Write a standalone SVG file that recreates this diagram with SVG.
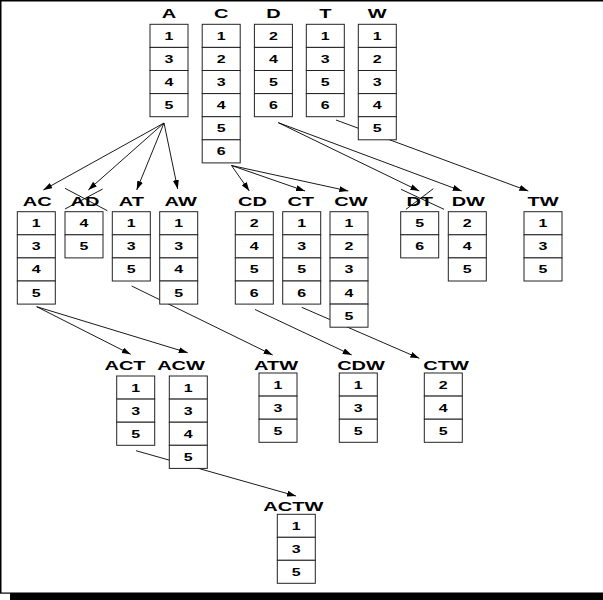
<svg xmlns="http://www.w3.org/2000/svg" width="603" height="600" viewBox="0 0 603 600">
<defs>
<style>
.c{fill:#fff;stroke:#222;stroke-width:1}
.d{font-family:"Liberation Sans",Arial,sans-serif;font-weight:bold;font-size:11px;text-anchor:middle;fill:#000}
.l{font-family:"Liberation Sans",Arial,sans-serif;font-weight:bold;font-size:12.5px;text-anchor:middle;fill:#000}
.e{stroke:#000;stroke-width:0.9;fill:none;marker-end:url(#ah)}
.x{stroke:#000;stroke-width:0.9;fill:none}
</style>
<marker id="ah" markerUnits="userSpaceOnUse" markerWidth="10" markerHeight="6" refX="9" refY="3" orient="auto">
<path d="M0,0 L9,3 L0,6 z" fill="#000"/>
</marker>
</defs>
<rect x="0" y="0" width="603" height="600" fill="#fff"/>
<line x1="0" y1="0.75" x2="603" y2="0.75" stroke="#000" stroke-width="1.5"/>
<line x1="0.75" y1="0" x2="0.75" y2="593" stroke="#000" stroke-width="1.5"/>
<rect x="0" y="592.5" width="603" height="1.2" fill="#000"/>
<rect x="10" y="593" width="593" height="7" fill="#000"/>

<g id="connectors">
<line class="e" x1="164" y1="123" x2="43.3" y2="190"/>
<line class="e" x1="164" y1="123" x2="88.3" y2="190"/>
<line class="e" x1="164" y1="123" x2="136.7" y2="190"/>
<line class="e" x1="164" y1="123" x2="177.7" y2="189"/>
<line class="e" x1="231.5" y1="165.5" x2="249.3" y2="191"/>
<line class="e" x1="231.5" y1="165.5" x2="305" y2="191"/>
<line class="e" x1="231.5" y1="165.5" x2="348.3" y2="191"/>
<line class="e" x1="278.3" y1="122.7" x2="419.3" y2="191"/>
<line class="e" x1="278.3" y1="122.7" x2="461.7" y2="191"/>
<line class="e" x1="336" y1="120" x2="528.3" y2="191"/>
<line class="e" x1="36.7" y1="306.7" x2="130.7" y2="354.3"/>
<line class="e" x1="36.7" y1="306.7" x2="187.7" y2="352.7"/>
<line class="e" x1="131.7" y1="286" x2="272.7" y2="355"/>
<line class="e" x1="255" y1="309.5" x2="351.7" y2="355"/>
<line class="e" x1="301.7" y1="307.3" x2="419.3" y2="358.3"/>
<line class="e" x1="136" y1="450.7" x2="296" y2="496"/>
</g>

<g id="node-A">
<text class="l" transform="translate(169,18.3) scale(1.6,1)">A</text>
<rect class="c" x="150" y="24.3" width="38" height="23.1"/><rect class="c" x="150" y="47.4" width="38" height="23.1"/><rect class="c" x="150" y="70.5" width="38" height="23.1"/><rect class="c" x="150" y="93.6" width="38" height="23.1"/>
<text class="d" transform="translate(169,39.8) scale(1.45,1)">1</text><text class="d" transform="translate(169,62.9) scale(1.45,1)">3</text><text class="d" transform="translate(169,86) scale(1.45,1)">4</text><text class="d" transform="translate(169,109.1) scale(1.45,1)">5</text>
</g>
<g id="node-C">
<text class="l" transform="translate(221.2,18.3) scale(1.6,1)">C</text>
<rect class="c" x="202.2" y="24.3" width="38" height="23.1"/><rect class="c" x="202.2" y="47.4" width="38" height="23.1"/><rect class="c" x="202.2" y="70.5" width="38" height="23.1"/><rect class="c" x="202.2" y="93.6" width="38" height="23.1"/><rect class="c" x="202.2" y="116.7" width="38" height="23.1"/><rect class="c" x="202.2" y="139.8" width="38" height="23.1"/>
<text class="d" transform="translate(221.2,39.8) scale(1.45,1)">1</text><text class="d" transform="translate(221.2,62.9) scale(1.45,1)">2</text><text class="d" transform="translate(221.2,86) scale(1.45,1)">3</text><text class="d" transform="translate(221.2,109.1) scale(1.45,1)">4</text><text class="d" transform="translate(221.2,132.2) scale(1.45,1)">5</text><text class="d" transform="translate(221.2,155.3) scale(1.45,1)">6</text>
</g>
<g id="node-D">
<text class="l" transform="translate(273.4,18.3) scale(1.6,1)">D</text>
<rect class="c" x="254.4" y="24.3" width="38" height="23.1"/><rect class="c" x="254.4" y="47.4" width="38" height="23.1"/><rect class="c" x="254.4" y="70.5" width="38" height="23.1"/><rect class="c" x="254.4" y="93.6" width="38" height="23.1"/>
<text class="d" transform="translate(273.4,39.8) scale(1.45,1)">2</text><text class="d" transform="translate(273.4,62.9) scale(1.45,1)">4</text><text class="d" transform="translate(273.4,86) scale(1.45,1)">5</text><text class="d" transform="translate(273.4,109.1) scale(1.45,1)">6</text>
</g>
<g id="node-T">
<text class="l" transform="translate(325.3,18.3) scale(1.6,1)">T</text>
<rect class="c" x="306.3" y="24.3" width="38" height="23.1"/><rect class="c" x="306.3" y="47.4" width="38" height="23.1"/><rect class="c" x="306.3" y="70.5" width="38" height="23.1"/><rect class="c" x="306.3" y="93.6" width="38" height="23.1"/>
<text class="d" transform="translate(325.3,39.8) scale(1.45,1)">1</text><text class="d" transform="translate(325.3,62.9) scale(1.45,1)">3</text><text class="d" transform="translate(325.3,86) scale(1.45,1)">5</text><text class="d" transform="translate(325.3,109.1) scale(1.45,1)">6</text>
</g>
<g id="node-W">
<text class="l" transform="translate(377.3,18.3) scale(1.6,1)">W</text>
<rect class="c" x="358.3" y="24.3" width="38" height="23.1"/><rect class="c" x="358.3" y="47.4" width="38" height="23.1"/><rect class="c" x="358.3" y="70.5" width="38" height="23.1"/><rect class="c" x="358.3" y="93.6" width="38" height="23.1"/><rect class="c" x="358.3" y="116.7" width="38" height="23.1"/>
<text class="d" transform="translate(377.3,39.8) scale(1.45,1)">1</text><text class="d" transform="translate(377.3,62.9) scale(1.45,1)">2</text><text class="d" transform="translate(377.3,86) scale(1.45,1)">3</text><text class="d" transform="translate(377.3,109.1) scale(1.45,1)">4</text><text class="d" transform="translate(377.3,132.2) scale(1.45,1)">5</text>
</g>

<g id="node-AC">
<text class="l" transform="translate(37.3,205.7) scale(1.6,1)">AC</text>
<rect class="c" x="17.3" y="211.7" width="38" height="23.1"/><rect class="c" x="17.3" y="234.8" width="38" height="23.1"/><rect class="c" x="17.3" y="257.9" width="38" height="23.1"/><rect class="c" x="17.3" y="281" width="38" height="23.1"/>
<text class="d" transform="translate(36.3,227.2) scale(1.45,1)">1</text><text class="d" transform="translate(36.3,250.3) scale(1.45,1)">3</text><text class="d" transform="translate(36.3,273.4) scale(1.45,1)">4</text><text class="d" transform="translate(36.3,296.5) scale(1.45,1)">5</text>
</g>
<g id="node-AD">
<text class="l" transform="translate(85,205.7) scale(1.6,1)">AD</text>
<line class="x" x1="65" y1="188.3" x2="107.3" y2="210.7"/>
<line class="x" x1="65" y1="209" x2="102.7" y2="189"/>
<rect class="c" x="65" y="211.7" width="38" height="23.1"/><rect class="c" x="65" y="234.8" width="38" height="23.1"/>
<text class="d" transform="translate(84,227.2) scale(1.45,1)">4</text><text class="d" transform="translate(84,250.3) scale(1.45,1)">5</text>
</g>
<g id="node-AT">
<text class="l" transform="translate(131.3,205.7) scale(1.6,1)">AT</text>
<rect class="c" x="112.3" y="211.7" width="38" height="23.1"/><rect class="c" x="112.3" y="234.8" width="38" height="23.1"/><rect class="c" x="112.3" y="257.9" width="38" height="23.1"/>
<text class="d" transform="translate(131.3,227.2) scale(1.45,1)">1</text><text class="d" transform="translate(131.3,250.3) scale(1.45,1)">3</text><text class="d" transform="translate(131.3,273.4) scale(1.45,1)">5</text>
</g>
<g id="node-AW">
<text class="l" transform="translate(180.7,205.7) scale(1.6,1)">AW</text>
<rect class="c" x="159.7" y="211.7" width="38" height="23.1"/><rect class="c" x="159.7" y="234.8" width="38" height="23.1"/><rect class="c" x="159.7" y="257.9" width="38" height="23.1"/><rect class="c" x="159.7" y="281" width="38" height="23.1"/>
<text class="d" transform="translate(178.7,227.2) scale(1.45,1)">1</text><text class="d" transform="translate(178.7,250.3) scale(1.45,1)">3</text><text class="d" transform="translate(178.7,273.4) scale(1.45,1)">4</text><text class="d" transform="translate(178.7,296.5) scale(1.45,1)">5</text>
</g>
<g id="node-CD">
<text class="l" transform="translate(252.5,205.7) scale(1.6,1)">CD</text>
<rect class="c" x="235.3" y="211.7" width="38" height="23.1"/><rect class="c" x="235.3" y="234.8" width="38" height="23.1"/><rect class="c" x="235.3" y="257.9" width="38" height="23.1"/><rect class="c" x="235.3" y="281" width="38" height="23.1"/>
<text class="d" transform="translate(254.3,227.2) scale(1.45,1)">2</text><text class="d" transform="translate(254.3,250.3) scale(1.45,1)">4</text><text class="d" transform="translate(254.3,273.4) scale(1.45,1)">5</text><text class="d" transform="translate(254.3,296.5) scale(1.45,1)">6</text>
</g>
<g id="node-CT">
<text class="l" transform="translate(300.7,205.7) scale(1.6,1)">CT</text>
<rect class="c" x="282.7" y="211.7" width="38" height="23.1"/><rect class="c" x="282.7" y="234.8" width="38" height="23.1"/><rect class="c" x="282.7" y="257.9" width="38" height="23.1"/><rect class="c" x="282.7" y="281" width="38" height="23.1"/>
<text class="d" transform="translate(301.7,227.2) scale(1.45,1)">1</text><text class="d" transform="translate(301.7,250.3) scale(1.45,1)">3</text><text class="d" transform="translate(301.7,273.4) scale(1.45,1)">5</text><text class="d" transform="translate(301.7,296.5) scale(1.45,1)">6</text>
</g>
<g id="node-CW">
<text class="l" transform="translate(351,205.7) scale(1.6,1)">CW</text>
<rect class="c" x="330" y="211.7" width="38" height="23.1"/><rect class="c" x="330" y="234.8" width="38" height="23.1"/><rect class="c" x="330" y="257.9" width="38" height="23.1"/><rect class="c" x="330" y="281" width="38" height="23.1"/><rect class="c" x="330" y="304.1" width="38" height="23.1"/>
<text class="d" transform="translate(349,227.2) scale(1.45,1)">1</text><text class="d" transform="translate(349,250.3) scale(1.45,1)">2</text><text class="d" transform="translate(349,273.4) scale(1.45,1)">3</text><text class="d" transform="translate(349,296.5) scale(1.45,1)">4</text><text class="d" transform="translate(349,319.6) scale(1.45,1)">5</text>
</g>
<g id="node-DT">
<text class="l" transform="translate(419.7,205.7) scale(1.6,1)">DT</text>
<line class="x" x1="401" y1="189.3" x2="444" y2="209.3"/>
<line class="x" x1="433.3" y1="188.7" x2="406" y2="209.3"/>
<rect class="c" x="400.7" y="211.7" width="38" height="23.1"/><rect class="c" x="400.7" y="234.8" width="38" height="23.1"/>
<text class="d" transform="translate(419.7,227.2) scale(1.45,1)">5</text><text class="d" transform="translate(419.7,250.3) scale(1.45,1)">6</text>
</g>
<g id="node-DW">
<text class="l" transform="translate(468.3,205.7) scale(1.6,1)">DW</text>
<rect class="c" x="448.3" y="211.7" width="38" height="23.1"/><rect class="c" x="448.3" y="234.8" width="38" height="23.1"/><rect class="c" x="448.3" y="257.9" width="38" height="23.1"/>
<text class="d" transform="translate(467.3,227.2) scale(1.45,1)">2</text><text class="d" transform="translate(467.3,250.3) scale(1.45,1)">4</text><text class="d" transform="translate(467.3,273.4) scale(1.45,1)">5</text>
</g>
<g id="node-TW">
<text class="l" transform="translate(543,205.7) scale(1.6,1)">TW</text>
<rect class="c" x="524" y="211.7" width="38" height="23.1"/><rect class="c" x="524" y="234.8" width="38" height="23.1"/><rect class="c" x="524" y="257.9" width="38" height="23.1"/>
<text class="d" transform="translate(543,227.2) scale(1.45,1)">1</text><text class="d" transform="translate(543,250.3) scale(1.45,1)">3</text><text class="d" transform="translate(543,273.4) scale(1.45,1)">5</text>
</g>

<g id="node-ACT">
<text class="l" transform="translate(125,370) scale(1.6,1)">ACT</text>
<rect class="c" x="116.7" y="376" width="38" height="23.1"/><rect class="c" x="116.7" y="399.1" width="38" height="23.1"/><rect class="c" x="116.7" y="422.2" width="38" height="23.1"/>
<text class="d" transform="translate(135.7,391.5) scale(1.45,1)">1</text><text class="d" transform="translate(135.7,414.6) scale(1.45,1)">3</text><text class="d" transform="translate(135.7,437.7) scale(1.45,1)">5</text>
</g>
<g id="node-ACW">
<text class="l" transform="translate(181,370) scale(1.6,1)">ACW</text>
<rect class="c" x="169.3" y="376" width="38" height="23.1"/><rect class="c" x="169.3" y="399.1" width="38" height="23.1"/><rect class="c" x="169.3" y="422.2" width="38" height="23.1"/><rect class="c" x="169.3" y="445.3" width="38" height="23.1"/>
<text class="d" transform="translate(188.3,391.5) scale(1.45,1)">1</text><text class="d" transform="translate(188.3,414.6) scale(1.45,1)">3</text><text class="d" transform="translate(188.3,437.7) scale(1.45,1)">4</text><text class="d" transform="translate(188.3,460.8) scale(1.45,1)">5</text>
</g>
<g id="node-ATW">
<text class="l" transform="translate(276,370) scale(1.6,1)">ATW</text>
<rect class="c" x="259" y="373" width="38" height="23.1"/><rect class="c" x="259" y="396.1" width="38" height="23.1"/><rect class="c" x="259" y="419.2" width="38" height="23.1"/>
<text class="d" transform="translate(278,388.5) scale(1.45,1)">1</text><text class="d" transform="translate(278,411.6) scale(1.45,1)">3</text><text class="d" transform="translate(278,434.7) scale(1.45,1)">5</text>
</g>
<g id="node-CDW">
<text class="l" transform="translate(361,370) scale(1.6,1)">CDW</text>
<rect class="c" x="339.3" y="373" width="38" height="23.1"/><rect class="c" x="339.3" y="396.1" width="38" height="23.1"/><rect class="c" x="339.3" y="419.2" width="38" height="23.1"/>
<text class="d" transform="translate(358.3,388.5) scale(1.45,1)">1</text><text class="d" transform="translate(358.3,411.6) scale(1.45,1)">3</text><text class="d" transform="translate(358.3,434.7) scale(1.45,1)">5</text>
</g>
<g id="node-CTW">
<text class="l" transform="translate(446,370) scale(1.6,1)">CTW</text>
<rect class="c" x="424.3" y="373" width="38" height="23.1"/><rect class="c" x="424.3" y="396.1" width="38" height="23.1"/><rect class="c" x="424.3" y="419.2" width="38" height="23.1"/>
<text class="d" transform="translate(443.3,388.5) scale(1.45,1)">2</text><text class="d" transform="translate(443.3,411.6) scale(1.45,1)">4</text><text class="d" transform="translate(443.3,434.7) scale(1.45,1)">5</text>
</g>
<g id="node-ACTW">
<text class="l" transform="translate(293.3,510.7) scale(1.6,1)">ACTW</text>
<rect class="c" x="277.3" y="514.3" width="38" height="23"/><rect class="c" x="277.3" y="537.3" width="38" height="23"/><rect class="c" x="277.3" y="560.3" width="38" height="23"/>
<text class="d" transform="translate(296.3,529.8) scale(1.45,1)">1</text><text class="d" transform="translate(296.3,552.8) scale(1.45,1)">3</text><text class="d" transform="translate(296.3,575.8) scale(1.45,1)">5</text>
</g>
</svg>
